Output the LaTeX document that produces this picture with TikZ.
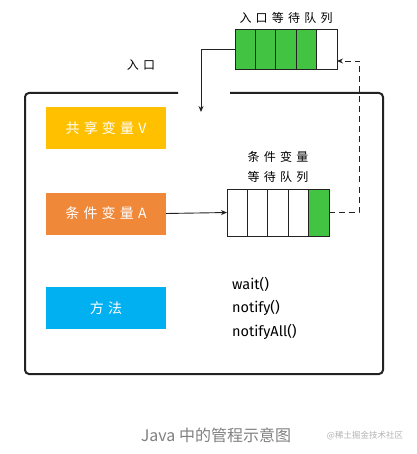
\documentclass[tikz,border=0pt]{standalone}
\usepackage{fontspec}
\setmainfont{Fira Sans}
\newfontfamily\cjk{Noto Sans CJK SC}
\usetikzlibrary{positioning}
\usetikzlibrary{arrows.meta}
\definecolor{qgreen}{RGB}{66,196,66}
\definecolor{vyellow}{RGB}{255,192,0}
\definecolor{vorange}{RGB}{240,136,58}
\definecolor{vblue}{RGB}{0,176,240}
\definecolor{edge}{RGB}{34,34,34}
\tikzset{
	cell/.style={draw=edge, line width=0.9pt, minimum width=20.4pt, minimum height=#1, inner sep=0pt, outer sep=0pt},
	varbox/.style={fill=#1, minimum width=120pt, minimum height=42pt, inner sep=0pt, text=white,
		font=\cjk\fontsize{14}{14}\selectfont\addfontfeature{LetterSpace=30}},
	cnlabel/.style={inner sep=0pt, align=center, font=\cjk\fontsize{12}{20}\selectfont\addfontfeature{LetterSpace=35}},
	link/.style={draw=edge, line width=0.9pt, -{Stealth[length=6pt,width=5pt]}}
}

\begin{document}
\begin{tikzpicture}[x=1pt, y=-1pt]
	\useasboundingbox (0,0) rectangle (416,454);

	% monitor outline, open at the entry
	\draw[edge, line width=2pt, rounded corners=4pt]
		(178,93) -- (25,93) -- (25,374) -- (383,374) -- (383,93) -- (230,93);

	% entry queue
	\node [cell=40pt, fill=qgreen] (e1) at (245.2,49) {};
	\node [cell=40pt, fill=qgreen, right=0pt of e1] (e2) {};
	\node [cell=40pt, fill=qgreen, right=0pt of e2] (e3) {};
	\node [cell=40pt, fill=qgreen, right=0pt of e3] (e4) {};
	\node [cell=40pt, fill=white, right=0pt of e4] (e5) {};
	\node [cnlabel, above=5pt of e3] (elabel) {入口等待队列};
	\node [cnlabel] (entrytext) at (141,65) {入口};
	\coordinate (entry) at (201,112);

	% variables and methods
	\node [varbox=vyellow] (shared) at (106,128) {共享变量V};
	\node [varbox=vorange] (condA) at (106,213.5) {条件变量A};
	\node [varbox=vblue] (method) at (106,308) {方法};

	% condition queue
	\node [cell=47pt, fill=white] (c1) at (237.2,212.5) {};
	\node [cell=47pt, fill=white, right=0pt of c1] (c2) {};
	\node [cell=47pt, fill=white, right=0pt of c2] (c3) {};
	\node [cell=47pt, fill=white, right=0pt of c3] (c4) {};
	\node [cell=47pt, fill=qgreen, right=0pt of c4] (c5) {};
	\node [cnlabel, above=6pt of c3] (clabel) {条件变量\\等待队列};
	\coordinate (back) at (359,61);

	\node [anchor=west, inner sep=0pt, align=left, font=\fontsize{14.5}{23.5}\selectfont] (calls) at (232,308)
		{wait()\\notify()\\notifyAll()};

	% connectors
	\draw [link] (e1.west) -| (entry);
	\draw [link] (condA.east) -- (c1.west);
	\draw [link, dash pattern=on 6pt off 4pt] (c5.east) -| (back) -- (back -| e5.east);

	% caption
	\node [font=\cjk\fontsize{16}{16}\selectfont, text=black!50] (caption) at (216,435) {Java 中的管程示意图};
	\node [font=\cjk\fontsize{8.5}{8.5}\selectfont, text=black!30] (mark) at (365,436) {@稀土掘金技术社区};
\end{tikzpicture}
\end{document}
